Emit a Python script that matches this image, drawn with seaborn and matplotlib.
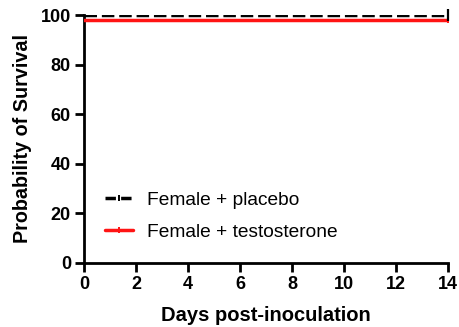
import matplotlib
matplotlib.use("Agg")
import matplotlib.pyplot as plt
import seaborn as sns
import pandas as pd
from matplotlib.lines import Line2D

days = [0, 14]
placebo = [100, 100]
testosterone = [98, 98]
groups = ["Female + placebo", "Female + testosterone"]
xticks = [0, 2, 4, 6, 8, 10, 12, 14]
yticks = [0, 20, 40, 60, 80, 100]

sns.set_style("ticks")
plt.rcParams['font.family'] = ['Liberation Sans', 'DejaVu Sans']
plt.rcParams['text.color'] = 'black'
plt.rcParams['axes.labelcolor'] = 'black'
plt.rcParams['xtick.color'] = 'black'
plt.rcParams['ytick.color'] = 'black'
plt.rcParams['axes.edgecolor'] = 'black'

df = pd.DataFrame({
    "day": days + days,
    "surv": placebo + testosterone,
    "group": [groups[0]] * len(days) + [groups[1]] * len(days),
})

fig = plt.figure(figsize=(4.6, 3.27), dpi=100)
ax = fig.add_axes([0.183, 0.196, 0.791, 0.758])

red = "#ff1414"
sns.lineplot(data=df[df.group == groups[1]], x="day", y="surv", color=red,
             lw=2.5, ax=ax, drawstyle="steps-post", legend=False, zorder=3)
sns.lineplot(data=df[df.group == groups[0]], x="day", y="surv", color="black",
             lw=2.5, ax=ax, drawstyle="steps-post", legend=False, zorder=4)
ax.lines[-1].set_dashes([3.6, 1.4])
# censor ticks at end
ax.plot([days[-1]], [placebo[-1]], marker="|", ms=8, mew=1.6, color="black",
        clip_on=False, zorder=5)
ax.plot([days[-1]], [testosterone[-1]], marker="|", ms=4, mew=1.4, color=red,
        clip_on=False, zorder=4)

ax.set_xlim(0, 14)
ax.set_ylim(0, 100)
ax.set_xticks(xticks)
ax.set_xticklabels([str(t) for t in xticks], fontweight="bold", fontsize=13)
ax.set_yticks(yticks)
ax.set_yticklabels([str(t) for t in yticks], fontweight="bold", fontsize=13)
ax.tick_params(axis="both", length=6.5, width=2, pad=3)
for s in ["left", "bottom"]:
    ax.spines[s].set_linewidth(2)
for s in ["top", "right"]:
    ax.spines[s].set_visible(False)

ax.set_xlabel("Days post-inoculation", fontsize=14.5, fontweight="bold", labelpad=9)
ax.set_ylabel("Probability of Survival", fontsize=14.2, fontweight="bold", labelpad=6)

handles = [
    Line2D([0], [0], color="black", lw=2.5, dashes=[3, 1.5], marker="|", ms=5, mew=1.4),
    Line2D([0], [0], color=red, lw=2.5, marker="|", ms=4, mew=1.4),
]
ax.legend(handles, groups, loc="lower left", bbox_to_anchor=(0.058, 0.09), frameon=False,
          fontsize=13.8, handlelength=1.45, handletextpad=0.75, labelspacing=0.75,
          borderaxespad=0, borderpad=0)

fig.savefig("out.png", dpi=100)
